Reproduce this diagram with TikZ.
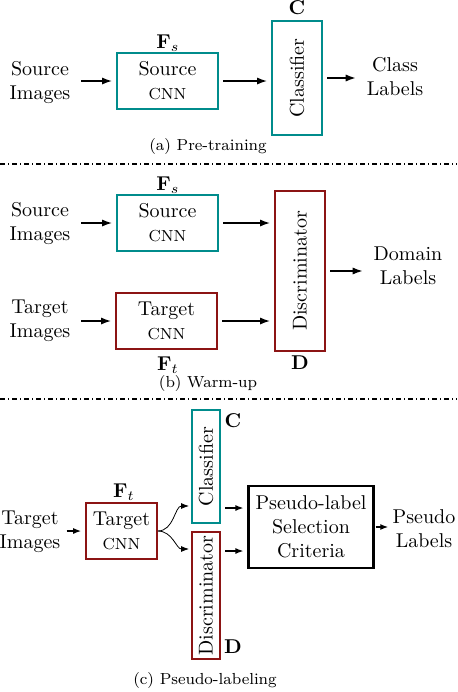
\documentclass[tikz,border=0pt]{standalone}
\usetikzlibrary{arrows.meta}
\definecolor{srcteal}{RGB}{0,140,140}
\definecolor{tgtred}{RGB}{140,20,20}
\begin{document}
\begin{tikzpicture}[x=0.5pt,y=-0.5pt,>={Latex[length=5pt,width=3.6pt]}]
        \tikzstyle{srcbox}=[draw=srcteal,line width=1pt,minimum width=50.5pt,minimum height=28pt,align=center]
        \tikzstyle{tgtbox}=[draw=tgtred,line width=1pt,minimum width=50.5pt,minimum height=28pt,align=center]
        \tikzstyle{txt}=[align=center]
        \tikzstyle{edge}=[draw,->,line width=0.7pt,shorten >=2pt,shorten <=2pt]
        \tikzstyle{sep}=[semithick,dash pattern=on 2.5pt off 1.5pt on 0.5pt off 1.5pt]
        \useasboundingbox (0,0) rectangle (457,692);
       % (a) Pre-training
       \begin{scope}
         \node [txt] (srcimgA) at (40,83) {Source\\Images};
         \node [srcbox] (srcA) at (167.5,81) {Source\\{\footnotesize CNN}};
         \node [draw=srcteal,line width=1pt,minimum width=25pt,minimum height=57pt] (clsA) at (297,78) {\rotatebox{90}{Classifier}};
         \node [txt] (lblA) at (395,77) {Class\\Labels};
         \node (FsA) at (168,43) {$\mathbf{F}_s$};
         \node (CA) at (297,8) {\textbf{C}};
         \node [font=\footnotesize] (capA) at (208,146) {(a) Pre-training};
         \path[edge] (srcimgA.east |- srcA) -- (srcA);
         \path[edge] (srcA) -- (srcA -| clsA.west);
         \path[edge] (clsA.east) -- (clsA.east -| lblA.west);
         \draw[sep] (0,164) -- (457,164);
        \end{scope}
       % (b) Warm-up
       \begin{scope}
         \node [txt] (srcimgB) at (40,224) {Source\\Images};
         \node [srcbox] (srcB) at (167.5,223) {Source\\{\footnotesize CNN}};
         \node [txt] (tgtimgB) at (40,321) {Target\\Images};
         \node [tgtbox] (tgtB) at (166.5,321) {Target\\{\footnotesize CNN}};
         \node [draw=tgtred,line width=1pt,minimum width=25pt,minimum height=80pt] (disB) at (300,271) {\rotatebox{90}{Discriminator}};
         \node [txt] (lblB) at (408,266) {Domain\\Labels};
         \node (FsB) at (168,185) {$\mathbf{F}_s$};
         \node (FtB) at (168,365) {$\mathbf{F}_t$};
         \node (DB) at (300,363) {\textbf{D}};
         \node [font=\footnotesize] (capB) at (208,383) {(b) Warm-up};
         \path[edge] (srcimgB.east |- srcB) -- (srcB);
         \path[edge] (tgtimgB.east |- tgtB) -- (tgtB);
         \path[edge] (srcB) -- (srcB -| disB.west);
         \path[edge] (tgtB) -- (tgtB -| disB.west);
         \path[edge] (disB) -- (disB -| lblB.west);
         \draw[sep] (0,399) -- (457,399);
        \end{scope}
       % (c) Pseudo-labeling
       \begin{scope}[>={Latex[length=4pt,width=3pt]}]
         \node [txt,inner sep=1pt] (tgtimgC) at (30,532) {Target\\Images};
         \node [draw=tgtred,line width=1pt,minimum width=34.5pt,minimum height=28pt,align=center] (tgtC) at (121.5,531) {Target\\{\footnotesize CNN}};
         \node [draw=srcteal,line width=1pt,minimum width=14pt,minimum height=56.5pt,inner sep=2pt] (clsC) at (206,466.5) {\rotatebox{90}{Classifier}};
         \node [draw=tgtred,line width=1pt,minimum width=14pt,minimum height=63.5pt,inner sep=1.5pt] (disC) at (206,595.5) {\rotatebox{90}{Discriminator}};
         \node [draw=black,line width=1.4pt,minimum width=61pt,minimum height=41pt,align=center] (psl) at (311,527) {Pseudo-label\\Selection\\Criteria};
         \node [txt,inner sep=1pt] (lblC) at (424,529) {Pseudo\\Labels};
         \node (FtC) at (124,492) {$\mathbf{F}_t$};
         \node (CC) at (233,421) {\textbf{C}};
         \node (DC) at (233,647) {\textbf{D}};
         \node [font=\footnotesize] (capC) at (205,680) {(c) Pseudo-labeling};
         \coordinate (cin) at ([yshift=9pt]clsC.south west);
         \coordinate (din) at ([yshift=-9pt]disC.north west);
         \coordinate (cout) at ([yshift=8pt]clsC.south east);
         \coordinate (dout) at ([yshift=-10pt]disC.north east);
         \path[edge] (tgtimgC.east |- tgtC) -- (tgtC);
         \draw[->,thin,shorten >=1pt] (tgtC.east) to[out=0,in=180] (cin);
         \draw[->,thin,shorten >=1pt] (tgtC.east) to[out=0,in=180] (din);
         \path[edge] (cout) -- (cout -| psl.west);
         \path[edge] (dout) -- (dout -| psl.west);
         \path[edge,shorten <=0.5pt,shorten >=1pt] (psl) -- (psl -| lblC.west);
        \end{scope}
      \end{tikzpicture}
\end{document}
